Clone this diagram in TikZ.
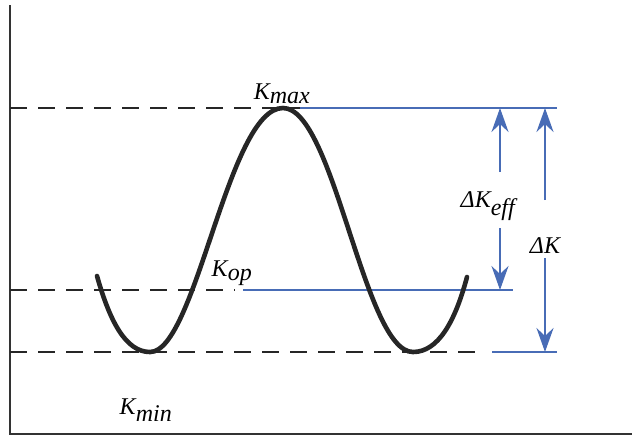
\documentclass[tikz,border=0pt]{standalone}
\usepackage{fontspec}
\setmainfont{Liberation Serif}
\newfontfamily\labelfont{Liberation Serif}
\usetikzlibrary{arrows.meta,positioning,calc}
\definecolor{lineblue}{RGB}{72,108,182}

\begin{document}
\begin{tikzpicture}[
    x=1pt, y=-1pt,
    axis/.style={line width=2.4pt, draw=black!80},
    level/.style={line width=1.8pt, dash pattern=on 17pt off 11pt, draw=black!85},
    refline/.style={line width=1.8pt, draw=lineblue},
    load/.style={line width=4.6pt, draw=black!85, line cap=round},
    arrow/.style={-{Stealth[length=24pt, width=17pt, inset=8pt]}, line width=2.4pt, draw=lineblue},
    lbl/.style={font=\labelfont\fontsize{24}{28}\selectfont\itshape, inner sep=0pt}
]
    \useasboundingbox (0,0) rectangle (632,437);

    % axes
    \coordinate (o) at (10,434);
    \draw [axis] (10,5) -- (o) -- (632,434);

    % levels
    \coordinate (maxL) at (10,108);
    \coordinate (maxM) at (300,108);
    \coordinate (maxR) at (557,108);
    \coordinate (opL) at (10,290);
    \coordinate (opM) at (235,290);
    \coordinate (opB) at (243,290);
    \coordinate (opR) at (513,290);
    \coordinate (minL) at (10,352);
    \coordinate (minM) at (483,352);
    \coordinate (minB) at (492,352);
    \coordinate (minR) at (557,352);

    \draw [level] (maxL) -- (maxM);
    \draw [refline] (maxM) -- (maxR);
    \draw [level] (opL) -- (opM);
    \draw [refline] (opB) -- (opR);
    \draw [level] (minL) -- (minM);
    \draw [refline] (minB) -- (minR);

    % load cycle
    \draw [load] (97,276) .. controls (110,322) and (126,352) .. (150,352)
        .. controls (196,352) and (228,108) .. (283,108)
        .. controls (334,108) and (364,352) .. (413,352)
        .. controls (438,352) and (455,322) .. (467,277);

    % labels
    \node [lbl] (kmax) at (282,94) {K$_{\textit{max}}$};
    \node [lbl] (kop) at (232,273) {K$_{\textit{op}}$};
    \node [lbl] (kmin) at (146,410) {K$_{\textit{min}}$};
    \node [lbl] (dkeff) at (488,206) {ΔK$_{\textit{eff}}$};
    \node [lbl] (dk) at (545,246) {ΔK};

    % ranges
    \coordinate (effU) at (500,172);
    \coordinate (effD) at (500,228);
    \coordinate (allU) at (545,200);
    \coordinate (allD) at (545,258);
    \draw [arrow] (effU) -- (effU |- maxR);
    \draw [arrow] (effD) -- (effD |- opR);
    \draw [arrow] (allU) -- (allU |- maxR);
    \draw [arrow] (allD) -- (allD |- minR);
\end{tikzpicture}
\end{document}
